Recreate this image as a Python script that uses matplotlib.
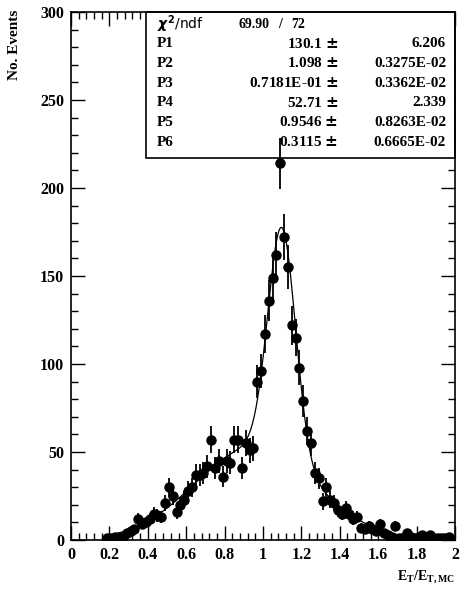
import numpy as np
import matplotlib
matplotlib.use("Agg")
import matplotlib.pyplot as plt
from matplotlib.ticker import MultipleLocator

# bin centres (width 0.02) and counts
bin_centres = np.round(np.arange(0.19, 2.0, 0.02), 2)
counts = [1, 1, 2, 2, 2, 4, 5, 6, 12, 9,          # 0.19 - 0.37
          10, 12, 15, 14, 13, 21, 30, 25, 16, 20,  # 0.39 - 0.57
          23, 28, 30, 37, 37, 38, 42, 57, 41, 45,  # 0.59 - 0.77
          36, 45, 44, 57, 57, 41, 55, 51, 52, 90,  # 0.79 - 0.97
          96, 117, 136, 149, 162, 214, 172, 155, 122, 115,  # 0.99 - 1.17
          98, 79, 62, 55, 38, 35, 22, 30, 23, 21,  # 1.19 - 1.37
          17, 15, 18, 15, 12, 13, 7, 6, 8, 6,      # 1.39 - 1.57
          5, 9, 4, 3, 2, 8, 1, 1, 4, 2,            # 1.59 - 1.77
          1, 2, 3, 2, 3, 1, 1, 1, 1, 2, 0]         # 1.79 - 1.99

# fit parameters shown in the stats box
par_names = ["P1", "P2", "P3", "P4", "P5", "P6"]
par_values = [130.1, 1.098, 0.07181, 52.71, 0.9546, 0.3115]
par_text = ["130.1", "1.098", "0.7181E-01", "52.71", "0.9546", "0.3115"]
par_err_text = ["6.206", "0.3275E-02", "0.3362E-02", "2.339", "0.8263E-02", "0.6665E-02"]
chi2_text = "69.90"
ndf_text = "72"


def fit_func(x, p):
    """double gaussian with the box parameters"""
    g1 = p[0] * np.exp(-0.5 * ((x - p[1]) / p[2]) ** 2)
    g2 = p[3] * np.exp(-0.5 * ((x - p[4]) / p[5]) ** 2)
    return g1 + g2


plt.rcParams['font.family'] = ['Liberation Serif', 'DejaVu Serif']
plt.rcParams['font.weight'] = 'bold'

fig = plt.figure(figsize=(4.65, 5.9), dpi=100)
ax = fig.add_axes([0.1527, 0.0847, 0.8258, 0.895])

x = np.array(bin_centres)
y = np.array(counts, dtype=float)
keep = y > 0
ax.errorbar(x[keep], y[keep], yerr=np.sqrt(y[keep]), fmt='o', color='black',
            ms=6.5, elinewidth=1.3, capsize=0, zorder=4)

xs = np.linspace(0.2, 2.0, 600)
ax.plot(xs, fit_func(xs, par_values), color='black', lw=0.9, zorder=3)

ax.set_xlim(0, 2)
ax.set_ylim(0, 300)
ax.xaxis.set_major_locator(MultipleLocator(0.2))
ax.xaxis.set_minor_locator(MultipleLocator(0.04))
ax.yaxis.set_major_locator(MultipleLocator(50))
ax.yaxis.set_minor_locator(MultipleLocator(10))
ax.set_xticks(np.arange(0, 2.01, 0.2))
ax.set_xticklabels(["0", "0.2", "0.4", "0.6", "0.8", "1", "1.2", "1.4", "1.6", "1.8", "2"])
ax.tick_params(which='both', direction='in', top=True, right=True, width=1,
               labelsize=11.5)
ax.tick_params(which='major', length=10, pad=5)
ax.tick_params(which='minor', length=5)
for sp in ax.spines.values():
    sp.set_linewidth(1.2)

# axis titles in ROOT style
fig.text(0.032, 0.984, "No. Events", rotation=90, ha='center', va='top',
         fontsize=11, fontweight='bold')
fig.text(0.978, 0.008, r"E$_\mathregular{T}$/E$_\mathregular{T,MC}$", ha='right',
         va='bottom', fontsize=10, fontweight='bold')

# stats box, drawn under the ticks and the points
box_l, box_b = 146 / 465, 1 - 158 / 590
box_r, box_t = 455 / 465, 1 - 12 / 590
ax.add_patch(plt.Rectangle((box_l, box_b), box_r - box_l, box_t - box_b,
                           transform=fig.transFigure, facecolor='white',
                           edgecolor='black', lw=1.2, zorder=2.2, clip_on=False))

row0 = 1 - 24 / 590
dy = 19.7 / 590
fs = 11
fig.text(157 / 465, row0, r"$\chi^2$/ndf", fontsize=10, fontweight='normal',
         family=['DejaVu Sans'], va='center', zorder=3)
fig.text(238 / 465, row0, chi2_text, fontsize=10, va='center', zorder=3)
fig.text(278 / 465, row0, "/", fontsize=10, va='center', zorder=3)
fig.text(291 / 465, row0, ndf_text, fontsize=10, va='center', zorder=3)
for i in range(len(par_names)):
    yy = row0 - (i + 1) * dy
    fig.text(157 / 465, yy, par_names[i], fontsize=fs, va='center', zorder=3)
    fig.text(338 / 465, yy, par_text[i] + r" $\pm$", fontsize=fs, va='center',
             ha='right', zorder=3)
    fig.text(446 / 465, yy, par_err_text[i], fontsize=fs, va='center',
             ha='right', zorder=3)

fig.savefig("out.png", dpi=100)
